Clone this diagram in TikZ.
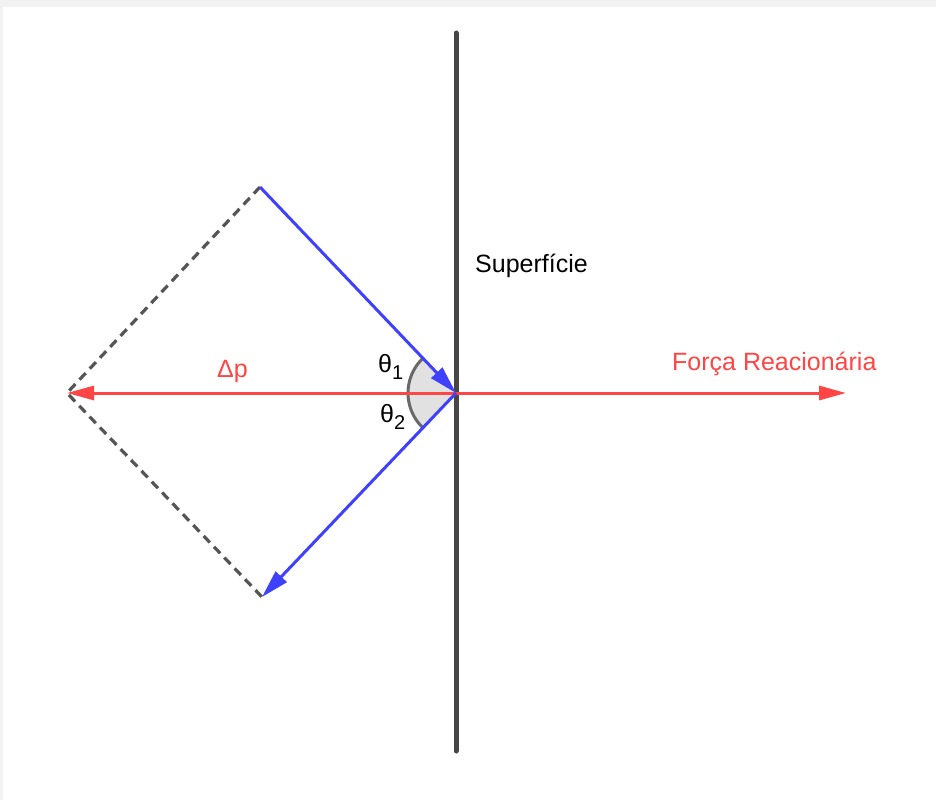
\documentclass[tikz,border=0pt]{standalone}
\usepackage{fontspec}
\setmainfont{Liberation Sans}
\usetikzlibrary{arrows.meta}
\definecolor{bgframe}{RGB}{242,242,242}
\definecolor{surf}{RGB}{70,70,70}
\definecolor{dashc}{RGB}{85,85,85}
\definecolor{redc}{RGB}{255,70,70}
\definecolor{bluec}{RGB}{64,64,255}
\definecolor{wedgefill}{RGB}{225,225,225}
\definecolor{arcc}{RGB}{105,105,105}
\tikzset{
  lbl/.style={inner sep=0pt, anchor=base west, font=\fontsize{25}{29}\selectfont},
  redarrow/.style={draw=redc, line width=3pt, -{Triangle[length=27pt,width=14pt]}},
  bluearrow/.style={draw=bluec, line width=3pt, -{Triangle[length=28pt,width=15pt]}},
  dashline/.style={draw=dashc, line width=3.2pt, dash pattern=on 9pt off 6pt},
  surfline/.style={draw=surf, line width=5pt, line cap=round},
}
\begin{document}
\begin{tikzpicture}[x=1pt,y=-1pt]
\fill[bgframe] (0,0) rectangle (936,800);
\fill[white] (3,7) rectangle (936,800);
\useasboundingbox (0,0) rectangle (936,800);
\coordinate (O) at (456,393);
\coordinate (A) at (260,187);
\coordinate (B) at (262,597);
\coordinate (P) at (67,393);
\coordinate (R) at (846,393);
\coordinate (ST) at (456,33);
\coordinate (SB) at (456,751);
% surface
\draw[surfline] (ST) -- (SB);
% angle wedge
\fill[wedgefill] (O) -- ++(133.6:48pt) arc[start angle=133.6, end angle=226.4, radius=48pt] -- cycle;
\draw[arcc, line width=3pt] (O) ++(133.6:48pt) arc[start angle=133.6, end angle=226.4, radius=48pt];
% dashed parallelogram
\draw[dashline] (A) -- (P) -- (B);
% red arrows
\draw[redarrow] (O) -- (P);
\draw[redarrow] (O) -- (R);
% blue arrows
\draw[bluearrow] (A) -- (O);
\draw[bluearrow] (O) -- (B);
% labels
\node[lbl] (sup) at (475,272) {Superfície};
\node[lbl, text=redc] (forca) at (672,370) {Força Reacionária};
\node[lbl, text=redc] (dp) at (217,377) {Δp};
\node[lbl] (t1) at (378,372) {θ\raisebox{-7pt}{\fontsize{20}{22}\selectfont 1}};
\node[lbl] (t2) at (380,422) {θ\raisebox{-7pt}{\fontsize{20}{22}\selectfont 2}};
\end{tikzpicture}
\end{document}
